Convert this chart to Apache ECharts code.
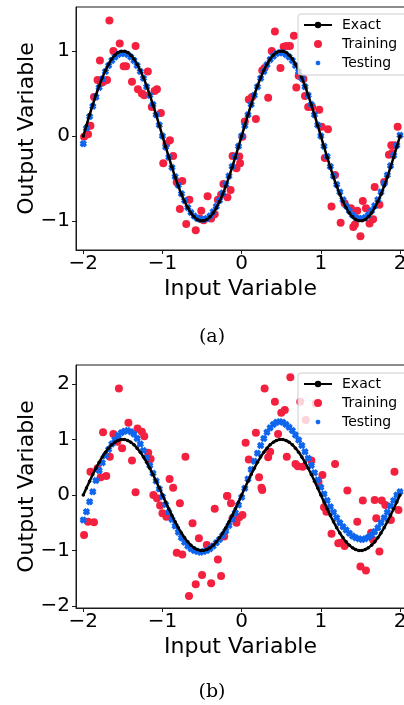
<!DOCTYPE html>
<html>
<head>
<meta charset="utf-8">
<script src="https://cdn.jsdelivr.net/npm/echarts@6/dist/echarts.min.js"></script>
<style>
  html, body { margin: 0; padding: 0; background: #ffffff; }
  #chart { width: 404px; height: 705px; }
</style>
</head>
<body>
<div id="chart"></div>
<script>
// Shared input grid for the exact curve and the testing predictions
const xGrid = [
  -2, -1.96, -1.92, -1.88, -1.84, -1.8, -1.76, -1.72, -1.68, -1.64, -1.6, -1.56, -1.52,
  -1.48, -1.44, -1.4, -1.36, -1.32, -1.28, -1.24, -1.2, -1.16, -1.12, -1.08, -1.04, -1,
  -0.96, -0.92, -0.88, -0.84, -0.8, -0.76, -0.72, -0.68, -0.64, -0.6, -0.56, -0.52,
  -0.48, -0.44, -0.4, -0.36, -0.32, -0.28, -0.24, -0.2, -0.16, -0.12, -0.08, -0.04, 0,
  0.04, 0.08, 0.12, 0.16, 0.2, 0.24, 0.28, 0.32, 0.36, 0.4, 0.44, 0.48, 0.52, 0.56, 0.6,
  0.64, 0.68, 0.72, 0.76, 0.8, 0.84, 0.88, 0.92, 0.96, 1, 1.04, 1.08, 1.12, 1.16, 1.2,
  1.24, 1.28, 1.32, 1.36, 1.4, 1.44, 1.48, 1.52, 1.56, 1.6, 1.64, 1.68, 1.72, 1.76, 1.8,
  1.84, 1.88, 1.92, 1.96, 2
];

// Exact output on the grid
const exactY = [
  0, 0.125, 0.249, 0.368, 0.482, 0.588, 0.685, 0.771, 0.844, 0.905, 0.951, 0.982, 0.998,
  0.998, 0.982, 0.951, 0.905, 0.844, 0.771, 0.685, 0.588, 0.482, 0.368, 0.249, 0.125, 0,
  -0.125, -0.249, -0.368, -0.482, -0.588, -0.685, -0.771, -0.844, -0.905, -0.951, -0.982, -0.998,
  -0.998, -0.982, -0.951, -0.905, -0.844, -0.771, -0.685, -0.588, -0.482, -0.368, -0.249, -0.125, 0,
  0.125, 0.249, 0.368, 0.482, 0.588, 0.685, 0.771, 0.844, 0.905, 0.951, 0.982, 0.998,
  0.998, 0.982, 0.951, 0.905, 0.844, 0.771, 0.685, 0.588, 0.482, 0.368, 0.249, 0.125, 0,
  -0.125, -0.249, -0.368, -0.482, -0.588, -0.685, -0.771, -0.844, -0.905, -0.951, -0.982, -0.998,
  -0.998, -0.982, -0.951, -0.905, -0.844, -0.771, -0.685, -0.588, -0.482, -0.368, -0.249, -0.125, 0
];

// Panel (a): testing predictions
const testA = [
  -0.09, 0.09, 0.23, 0.35, 0.46, 0.57, 0.67, 0.76, 0.83, 0.89, 0.93, 0.96, 0.97,
  0.97, 0.96, 0.93, 0.89, 0.83, 0.76, 0.68, 0.58, 0.48, 0.37, 0.25, 0.13, 0.00,
  -0.13, -0.25, -0.37, -0.48, -0.58, -0.68, -0.76, -0.84, -0.90, -0.94, -0.97, -0.98,
  -0.98, -0.97, -0.94, -0.89, -0.83, -0.76, -0.67, -0.57, -0.47, -0.36, -0.24, -0.12, 0.00,
  0.12, 0.25, 0.37, 0.48, 0.58, 0.68, 0.76, 0.84, 0.90, 0.94, 0.97, 0.98,
  0.98, 0.96, 0.93, 0.89, 0.83, 0.76, 0.68, 0.58, 0.48, 0.37, 0.25, 0.13, 0.00,
  -0.12, -0.24, -0.36, -0.47, -0.57, -0.66, -0.75, -0.82, -0.88, -0.93, -0.96, -0.97,
  -0.97, -0.96, -0.93, -0.88, -0.82, -0.75, -0.66, -0.56, -0.46, -0.35, -0.23, -0.11, 0.01
];

// Panel (b): testing predictions
const testB = [
  -0.45, -0.30, -0.12, 0.06, 0.26, 0.44, 0.58, 0.71, 0.82, 0.92, 1.00, 1.07, 1.12,
  1.15, 1.16, 1.14, 1.10, 1.02, 0.92, 0.80, 0.67, 0.53, 0.39, 0.25, 0.11, -0.03,
  -0.17, -0.31, -0.44, -0.56, -0.67, -0.77, -0.85, -0.92, -0.97, -1.00, -1.02, -1.03,
  -1.02, -1.00, -0.97, -0.92, -0.86, -0.80, -0.73, -0.65, -0.55, -0.44, -0.32, -0.18, -0.04,
  0.12, 0.29, 0.46, 0.61, 0.75, 0.89, 1.02, 1.13, 1.21, 1.27, 1.31, 1.32,
  1.31, 1.27, 1.22, 1.16, 1.08, 0.99, 0.89, 0.78, 0.66, 0.53, 0.40, 0.27, 0.14,
  0.02, -0.10, -0.21, -0.31, -0.41, -0.50, -0.57, -0.63, -0.69, -0.74, -0.77, -0.79,
  -0.80, -0.79, -0.76, -0.72, -0.66, -0.59, -0.50, -0.41, -0.31, -0.20, -0.10, 0.00, 0.06
];

// Panel (a): training samples [x, y]
const trainA = [
  [-1.67, 1.36], [-1.54, 1.09], [-1.34, 1.06], [-1.62, 1.00], [-1.79, 0.89], [-1.49, 0.82],
  [-1.46, 0.82], [-1.185, 0.76], [-1.82, 0.66], [-1.73, 0.65], [-1.70, 0.66], [-1.76, 0.63],
  [-1.385, 0.64], [-1.31, 0.55], [-1.26, 0.50], [-1.23, 0.48], [-1.07, 0.55], [-1.10, 0.53],
  [-1.865, 0.46], [-1.135, 0.34], [-1.02, 0.27], [-1.91, 0.12], [-1.99, -0.01], [-1.94, 0.02],
  [-0.906, -0.05], [-0.95, -0.09], [-0.865, -0.235], [-0.99, -0.32], [-0.82, -0.545], [-0.75, -0.53],
  [-0.78, -0.86], [-0.66, -0.75], [-0.70, -1.035], [-0.58, -1.11], [-0.51, -0.88], [-0.43, -0.71],
  [-0.53, -0.97], [-0.48, -0.99], [-0.385, -0.97], [-0.34, -0.92], [-0.30, -0.75], [-0.26, -0.69],
  [-0.18, -0.72], [-0.23, -0.565], [-0.14, -0.635], [-0.065, -0.38], [-0.02, -0.32], [-0.115, -0.235],
  [-0.03, -0.24], [1.135, -0.83], [1.05, -0.26], [1.18, -0.46], [1.25, -1.02], [1.30, -0.79],
  [1.38, -0.85], [1.46, -0.88], [1.41, -1.07], [1.43, -1.04], [1.50, -1.18], [1.53, -0.765],
  [1.57, -0.85], [1.615, -1.03], [1.66, -0.98], [1.68, -0.60], [1.74, -0.81], [1.80, -0.54],
  [1.86, -0.22], [1.90, -0.20], [1.93, -0.11], [0.42, 1.23], [0.66, 1.18], [0.53, 1.05],
  [0.61, 1.06], [0.565, 1.06], [0.38, 1.00], [0.49, 0.80], [0.29, 0.80], [0.26, 0.77],
  [0.72, 0.71], [0.78, 0.67], [0.69, 0.57], [0.335, 0.45], [0.09, 0.43], [0.13, 0.46],
  [0.80, 0.47], [0.84, 0.34], [0.89, 0.34], [0.98, 0.31], [0.18, 0.20], [0.04, 0.17],
  [1.01, 0.11], [1.09, 0.08], [0.01, -0.01], [1.97, 0.11], [1.89, -0.11]
];

// Panel (b): training samples [x, y]
const trainB = [
  [-1.55, 1.92], [-1.43, 1.30], [-1.75, 1.13], [-1.62, 1.10], [-1.315, 1.20], [-1.26, 1.14],
  [-1.23, 1.06], [-1.57, 0.96], [-1.51, 0.84], [-1.665, 0.69], [-1.385, 0.62], [-1.18, 0.76],
  [-1.15, 0.65], [-0.71, 0.69], [-1.91, 0.42], [-1.82, 0.48], [-1.78, 0.32], [-1.71, 0.34],
  [-0.91, 0.29], [-0.865, 0.13], [-1.34, 0.05], [-1.115, 0.00], [-1.07, -0.06], [-1.03, -0.19],
  [-1.00, -0.33], [-0.95, -0.39], [-0.78, -0.15], [-0.62, -0.51], [-0.54, -0.78], [-0.44, -0.90],
  [-0.82, -1.04], [-0.75, -1.07], [-0.50, -1.44], [-0.58, -1.61], [-0.665, -1.82], [-1.99, -0.72],
  [-1.94, -0.48], [-1.865, -0.49], [-0.385, -1.59], [-0.26, -1.46], [-0.30, -1.16], [-0.34, -0.25],
  [-0.18, -0.02], [-0.135, -0.15], [-0.115, -0.42], [-0.065, -0.50], [-0.03, -0.40], [0.01, -0.36],
  [-0.22, -0.75], [0.26, 0.09], [1.04, -0.22], [1.07, -0.30], [1.135, -0.70], [1.22, -0.87],
  [1.25, -0.86], [1.30, -0.92], [1.46, -0.48], [1.53, -0.10], [1.50, -1.29], [1.57, -1.36],
  [1.635, -0.68], [1.66, -0.81], [1.70, -0.42], [1.74, -1.02], [1.77, -0.10], [1.815, -0.18],
  [1.885, -0.45], [1.98, -0.27], [0.615, 2.12], [0.29, 1.92], [0.42, 1.68], [0.50, 1.48],
  [0.545, 1.53], [0.935, 1.65], [0.74, 1.68], [0.81, 1.35], [0.18, 1.12], [0.46, 1.10],
  [0.05, 0.94], [0.09, 0.64], [0.335, 0.68], [0.36, 0.78], [0.57, 0.69], [0.68, 0.56],
  [0.71, 0.52], [0.77, 0.51], [0.88, 0.62], [1.18, 0.56], [0.22, 0.32], [0.25, 0.13],
  [1.02, 0.36], [0.97, 0.24], [1.335, 0.08], [1.93, 0.42], [-0.185, -0.02], [1.68, -0.09]
];

// Tick values
const xTicks = [-2, -1, 0, 1, 2];
const yTicksA = [-1, 0, 1];
const yTicksB = [-2, -1, 0, 1, 2];

const seriesNames = ['Exact', 'Training', 'Testing'];
const captions = ['(a)', '(b)'];
const xName = 'Input Variable';
const yName = 'Output Variable';

const FONT = 'DejaVu Sans';
const RED = '#f3213f';
const BLUE = '#0f66ee';
const INK = '#1a1a1a';
// filled "X" marker with thick arms
const X_BODY = 'M0.53,0.176L0.707,0L1.06,0.353L0.884,0.53L1.06,0.707L0.707,1.06L0.53,0.884L0.353,1.06L0,0.707L0.176,0.53L0,0.353L0.353,0Z';
const X_MARK = 'path://' + X_BODY;
// same marker with an empty margin so the legend icon stays small
const X_ICON = 'path://M-0.3,-0.3M1.36,1.36M' + X_BODY.slice(1);

const pairs = (xs, ys) => xs.map((x, i) => [x, ys[i]]);
const tickText = v => (v < 0 ? '\u2212' + Math.abs(v) : String(v));

const grids = [
  { left: 76, top: 7, width: 329, height: 243 },
  { left: 76, top: 365, width: 329, height: 243 }
].map(g => Object.assign(g, {
  show: true, borderColor: INK, borderWidth: 1, backgroundColor: 'transparent',
  containLabel: false, outerBoundsMode: 'none'
}));

function xAxisFor(i) {
  return {
    type: 'value', gridIndex: i, min: -2.092, max: 2.063,
    splitLine: { show: false },
    axisLine: { show: true, onZero: false, lineStyle: { color: INK, width: 1 } },
    axisTick: { show: true, length: 4, lineStyle: { color: INK, width: 1 }, customValues: xTicks },
    axisLabel: { customValues: xTicks, formatter: tickText, margin: 4, fontFamily: FONT, fontSize: 20, color: '#000' },
    name: xName, nameLocation: 'middle', nameGap: 28,
    nameTextStyle: { fontFamily: FONT, fontSize: 22, color: '#000' }
  };
}

function yAxisFor(i, min, max, ticks) {
  return {
    type: 'value', gridIndex: i, min: min, max: max,
    splitLine: { show: false },
    axisLine: { show: true, onZero: false, lineStyle: { color: INK, width: 1 } },
    axisTick: { show: true, length: 4, lineStyle: { color: INK, width: 1 }, customValues: ticks },
    axisLabel: { customValues: ticks, formatter: tickText, margin: 6, fontFamily: FONT, fontSize: 20, color: '#000' },
    name: yName, nameLocation: 'middle', nameGap: 38, nameMoveOverlap: false,
    nameTextStyle: { fontFamily: FONT, fontSize: 22, color: '#000' }
  };
}

function legendAt(top) {
  return {
    orient: 'vertical', left: 298, top: top,
    itemWidth: 28, itemHeight: 8, itemGap: 5,
    padding: [4, 10, 5, 5],
    backgroundColor: 'rgba(255,255,255,0.8)',
    borderColor: '#cccccc', borderWidth: 1, borderRadius: 3,
    selectedMode: false,
    textStyle: { fontFamily: FONT, fontSize: 14, color: '#000', padding: [0, 0, 0, 5] },
    data: [
      { name: seriesNames[0] },
      { name: seriesNames[1], icon: 'circle' },
      { name: seriesNames[2], icon: X_ICON }
    ]
  };
}

function panelSeries(i, testY, train) {
  return [
    {
      name: seriesNames[0], type: 'line', xAxisIndex: i, yAxisIndex: i,
      data: pairs(xGrid, exactY), smooth: true,
      symbol: 'circle', symbolSize: 3.5, showSymbol: true, showAllSymbol: true,
      lineStyle: { color: '#000', width: 2.5 }, itemStyle: { color: '#000' }
    },
    {
      name: seriesNames[1], type: 'scatter', xAxisIndex: i, yAxisIndex: i,
      data: train, symbol: 'circle', symbolSize: 8,
      itemStyle: { color: RED, opacity: 1 }
    },
    {
      name: seriesNames[2], type: 'scatter', xAxisIndex: i, yAxisIndex: i,
      data: pairs(xGrid, testY), symbol: X_MARK, symbolSize: 7.5,
      itemStyle: { color: BLUE, opacity: 1 }
    }
  ];
}

const chart = echarts.init(document.getElementById('chart'), null, { renderer: 'canvas' });
chart.setOption({
  animation: false,
  backgroundColor: '#ffffff',
  grid: grids,
  xAxis: [xAxisFor(0), xAxisFor(1)],
  yAxis: [yAxisFor(0, -1.341, 1.518, yTicksA), yAxisFor(1, -2.036, 2.342, yTicksB)],
  legend: [legendAt(14), legendAt(373)],
  series: panelSeries(0, testA, trainA).concat(panelSeries(1, testB, trainB)),
  graphic: [
    { type: 'text', x: 212, y: 337, style: { text: captions[0], align: 'center', verticalAlign: 'middle', fontFamily: 'DejaVu Serif', fontSize: 19, fill: '#000' } },
    { type: 'text', x: 212, y: 692, style: { text: captions[1], align: 'center', verticalAlign: 'middle', fontFamily: 'DejaVu Serif', fontSize: 19, fill: '#000' } }
  ]
});
</script>
</body>
</html>
